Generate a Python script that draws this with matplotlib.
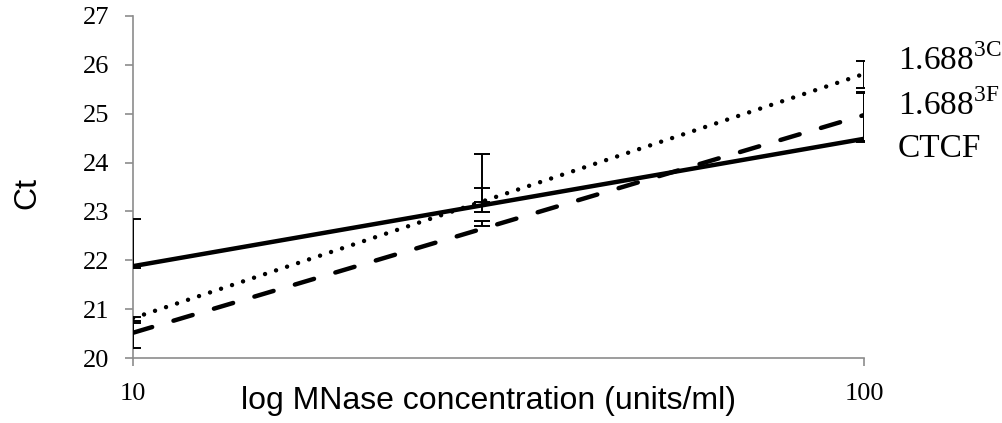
import numpy as np
import matplotlib
matplotlib.use("Agg")
import matplotlib.pyplot as plt
from matplotlib.ticker import FixedLocator, NullLocator, FixedFormatter

plt.rcParams['mathtext.fontset'] = 'custom'
plt.rcParams['mathtext.rm'] = 'Liberation Serif'

# Data
conc = [10, 30, 100]
ct_3c = [20.80, 23.23, 25.80]
err_3c = [0.04, 0.24, 0.28]
ct_3f = [20.46, 22.75, 24.92]
err_3f = [0.26, 0.05, 0.50]
ct_ctcf = [21.84, 23.20, 24.45]
err_ctcf_plus = [1.00, 0.98, 1.00]

series_labels = [r'1.688$^{\mathrm{3C}}$', r'1.688$^{\mathrm{3F}}$', 'CTCF']
yticks = [20, 21, 22, 23, 24, 25, 26, 27]
xticks = [10, 100]
xticklabels = ['10', '100']

W, H = 1002, 423
fig = plt.figure(figsize=(W / 100, H / 100), dpi=100)
L, R, T, B = 133, 864, 16, 358
ax = fig.add_axes([L / W, 1 - B / H, (R - L) / W, (B - T) / H])

ax.set_xscale('log')
ax.set_xlim(10, 100)
ax.set_ylim(20, 27)

def trend(x, y):
    t = np.log10(x)
    p = np.polyfit(t, y, 1)
    tt = np.array([1.0, 2.0])
    return 10 ** tt, np.polyval(p, tt)

lw = 3.2
# trend lines
x1, y1 = trend(conc, ct_ctcf)
ax.plot(x1, y1, color='black', lw=lw, solid_capstyle='butt', zorder=3)
x2, y2 = trend(conc, ct_3c)
ax.plot(x2, y2, color='black', lw=lw, linestyle=(0, (0.01, 2.6)),
        dash_capstyle='round', zorder=3)
x3, y3 = trend(conc, ct_3f)
ax.plot(x3, y3, color='black', lw=lw, linestyle=(0, (4.5, 5.0)),
        dash_capstyle='round', zorder=3)

# error bars
ekw = dict(fmt='none', ecolor='black', elinewidth=1.4, capsize=5.5,
           capthick=1.4, zorder=4)
ax.errorbar(conc, ct_3c, yerr=err_3c, **ekw)
ax.errorbar(conc, ct_3f, yerr=err_3f, **ekw)
ax.errorbar(conc, ct_ctcf, yerr=[[0, 0, 0], err_ctcf_plus], **ekw)

# axes styling
grey = '#8c8c8c'
for s in ['top', 'right']:
    ax.spines[s].set_visible(False)
for s in ['left', 'bottom']:
    ax.spines[s].set_color(grey)
    ax.spines[s].set_linewidth(1.2)

ax.yaxis.set_major_locator(FixedLocator(yticks))
ax.yaxis.set_minor_locator(NullLocator())
ax.xaxis.set_major_locator(FixedLocator(xticks))
ax.xaxis.set_major_formatter(FixedFormatter(xticklabels))
ax.xaxis.set_minor_locator(NullLocator())

ax.tick_params(axis='y', direction='out', length=6, width=1.2, color=grey,
               pad=11, labelsize=19, labelfontfamily='Liberation Serif')
ax.tick_params(axis='x', direction='out', length=6, width=1.2, color=grey,
               pad=12, labelsize=19, labelfontfamily='Liberation Serif')

ax.set_ylabel('Ct', fontsize=23, family='Liberation Sans', va='center')
ax.yaxis.set_label_coords((27 - L) / (R - L), (B - 193) / (B - T))
ax.set_xlabel('log MNase concentration (units/ml)', fontsize=23,
              family='Liberation Sans', va='center')
ax.xaxis.set_label_coords((489 - L) / (R - L), (B - 401) / (B - T))

# right-hand labels
for lab, yb in zip(series_labels, [70, 115, 157]):
    fig.text(898 / W, 1 - yb / H, lab, fontsize=24, family='Liberation Serif',
             va='baseline', ha='left')

fig.savefig('out.png', dpi=100)
